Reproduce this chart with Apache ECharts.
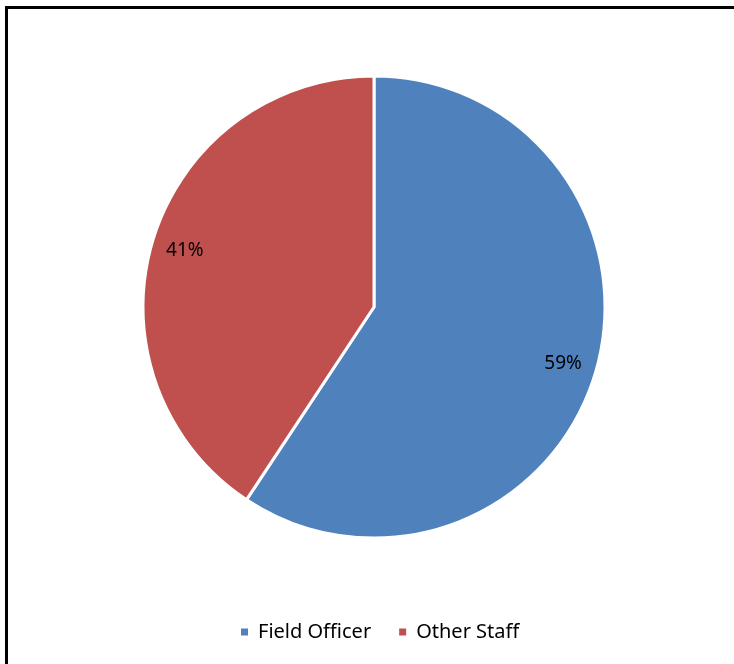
<!DOCTYPE html>
<html>
<head>
<meta charset="utf-8">
<script src="https://cdn.jsdelivr.net/npm/echarts@6/dist/echarts.min.js"></script>
<style>
  html, body { margin: 0; padding: 0; background: #fff; }
  #chart { width: 734px; height: 664px; }
</style>
</head>
<body>
<div id="chart"></div>
<script>
  var categories = ['Field Officer', 'Other Staff'];
  var shares = [59.3, 40.7];
  var colors = ['#4F81BD', '#C0504D'];

  var chart = echarts.init(document.getElementById('chart'));

  var pieData = categories.map(function (name, i) {
    return { name: name, value: shares[i], itemStyle: { color: colors[i] } };
  });
  var labelData = categories.map(function (name, i) {
    return { name: name, value: shares[i] };
  });

  chart.setOption({
    animation: false,
    graphic: [{
      type: 'rect',
      shape: { x: 6.5, y: 7.5, width: 900, height: 900 },
      style: { fill: 'none', stroke: '#000', lineWidth: 3 }
    }],
    legend: {
      data: categories,
      left: 234,
      top: 617,
      icon: 'rect',
      itemWidth: 9,
      itemHeight: 9,
      itemGap: 26,
      textStyle: { fontFamily: 'Noto Sans', fontSize: 20, color: '#000', padding: [0, 0, 0, 4] }
    },
    series: [
      {
        name: 'Staff',
        type: 'pie',
        center: [374, 307],
        radius: [0, 231],
        startAngle: 90,
        clockwise: true,
        silent: true,
        label: { show: false },
        labelLine: { show: false },
        itemStyle: { borderColor: '#fff', borderWidth: 3 },
        data: pieData
      },
      {
        name: 'labels',
        type: 'pie',
        center: [374, 307],
        radius: [158, 231],
        startAngle: 90,
        clockwise: true,
        silent: true,
        legendHoverLink: false,
        itemStyle: { color: 'rgba(0,0,0,0)' },
        label: {
          show: true,
          position: 'inside',
          formatter: function (p) { return Math.round(p.percent) + '%'; },
          fontFamily: 'Noto Sans',
          fontSize: 19,
          color: '#000'
        },
        labelLine: { show: false },
        data: labelData
      }
    ]
  });
</script>
</body>
</html>
